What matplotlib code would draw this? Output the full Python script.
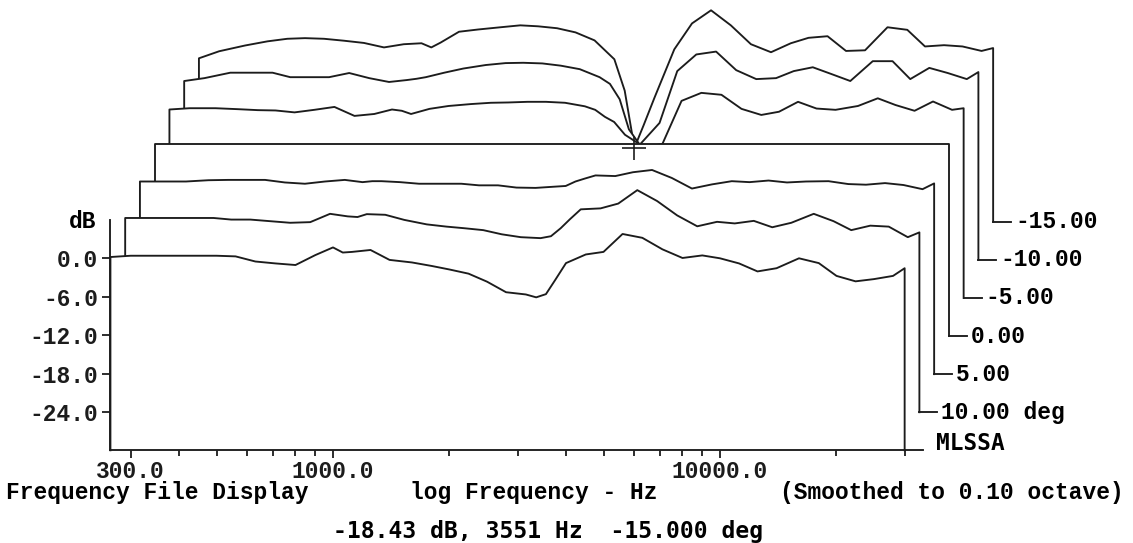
import matplotlib
matplotlib.use('Agg')
import matplotlib.pyplot as plt
from matplotlib.ticker import FixedLocator, FixedFormatter, NullFormatter

plt.rcParams['font.family'] = ['Liberation Mono', 'DejaVu Sans Mono']
plt.rcParams['font.weight'] = 'bold'
plt.rcParams['font.size'] = 16.5

# frequency grid (Hz) shared by all curves
freq = [266, 300, 350, 400, 450, 500, 560, 630, 710, 800, 900, 1000, 1060, 1120,
        1250, 1400, 1600, 1800, 2000, 2240, 2500, 2800, 3150, 3350, 3550, 3750,
        4000, 4500, 5000, 5600, 6300, 7100, 8000, 9000, 10000, 11200, 12500,
        14000, 16000, 18000, 20000, 22400, 25000, 28000, 30000]

# response in dB, front card first
deg_p15 = [0.2, 0.4, 0.4, 0.4, 0.4, 0.4, 0.3, -0.5, -0.8, -1.05, 0.5, 1.7, 0.9, 1.0,
           1.3, -0.25, -0.65, -1.2, -1.75, -2.4, -3.65, -5.3, -5.65, -6.1, -5.6, -3.4,
           -0.75, 0.6, 1.0, 3.8, 3.2, 1.4, 0.05, 0.45, 0.0, -0.8, -2.05,
           -1.55, 0.0, -0.75, -2.75, -3.6, -3.25, -2.75, -1.55]
deg_p10 = [0.35, 0.35, 0.35, 0.35, 0.35, 0.1, 0.1, -0.15, -0.4, -0.3, 1.0, 0.6, 0.5, 0.95,
           0.85, 0.05, -0.65, -1.0, -1.25, -1.55, -2.2, -2.65, -2.8, -2.5, -1.25, 0.15,
           1.7, 1.85, 2.6, 4.7, 3.0, 0.75, -0.95, -0.25, -0.5, -0.1, -1.1,
           -0.4, 1.0, -0.15, -1.55, -0.85, -1.0, -2.65, -1.9]
deg_p5 = [0.1, 0.1, 0.1, 0.3, 0.35, 0.35, 0.35, -0.05, -0.25, 0.1, 0.35, 0.0, 0.15, 0.15,
          0.0, -0.25, -0.25, -0.25, -0.5, -0.5, -0.85, -0.9, -0.7, -0.6, 0.1, 0.55,
          1.05, 0.95, 1.55, 1.9, 0.65, -1.0, -0.35, 0.15, 0.0, 0.25, -0.05,
          0.1, 0.15, -0.3, -0.4, -0.15, -0.45, -1.1, -0.2]
deg_0 = [0.0, 0.0, 0.0, 0.0, 0.0, 0.0, 0.0, 0.0, 0.0, 0.0, 0.0, 0.0, 0.0, 0.0,
         0.0, 0.0, 0.0, 0.0, 0.0, 0.0, 0.0, 0.0, 0.0, 0.0, 0.0, 0.0,
         0.0, 0.0, 0.0, 0.0, 0.0, 0.0, 0.0, 0.0, 0.0, 0.0, 0.0,
         0.0, 0.0, 0.0, 0.0, 0.0, 0.0, 0.0, 0.0]
deg_m5 = [-0.55, -0.35, -0.35, -0.5, -0.65, -0.7, -1.0, -0.6, -0.15, -1.55, -1.25, -0.55, -0.75, -1.25,
          -0.45, 0.0, 0.3, 0.5, 0.55, 0.65, 0.65, 0.5, -0.05, -0.6, -1.7, -2.5,
          -4.5, -6.5, -5.9, 0.8, 2.05, 1.75, -0.45, -1.4, -0.9, 0.65, -0.4,
          -0.6, 0.0, 1.2, 0.15, -0.75, 0.7, -0.6, -0.35]
deg_m10 = [-2.05, -1.6, -0.75, -0.75, -0.75, -1.45, -1.45, -1.45, -0.8, -1.6, -2.2, -1.9, -1.7, -1.45,
           -0.75, -0.1, 0.45, 0.75, 0.8, 0.7, 0.35, -0.2, -1.45, -2.5, -4.9, -9.6,
           -12.0, -8.6, -0.5, 2.1, 2.55, -0.35, -1.75, -1.6, -0.5, 0.1, -0.95,
           -2.05, 1.05, 1.05, -1.75, 0.0, -0.8, -1.75, -0.65]
deg_m15 = [-4.45, -3.35, -2.45, -1.8, -1.4, -1.3, -1.4, -1.7, -2.05, -2.75, -2.25, -2.1, -2.75, -2.0,
           -0.3, 0.05, 0.4, 0.7, 0.55, 0.25, -0.4, -1.65, -4.6, -9.5, -18.43, -14.9,
           -10.6, -3.05, 1.0, 3.05, 0.7, -2.25, -3.5, -2.1, -1.25, -1.0, -3.3,
           -3.2, 0.4, 0.0, -2.6, -2.4, -2.6, -3.3, -2.85]

cards = [deg_p15, deg_p10, deg_p5, deg_0, deg_m5, deg_m10, deg_m15]
card_labels = ['', '10.00 deg', '5.00', '0.00', '-5.00', '-10.00', '-15.00']

ytick_vals = [0, -6, -12, -18, -24]
ytick_text = ['0.0', '-6.0', '-12.0', '-18.0', '-24.0']
xtick_major = [300, 1000, 10000]
xtick_text = ['300.0', '1000.0', '10000.0']
xtick_minor = [400, 500, 600, 700, 800, 900, 2000, 3000, 4000, 5000, 6000,
               7000, 8000, 9000, 20000, 30000]

cursor_f, cursor_db = 3551, -18.43

# waterfall geometry (one decade = 387 px, 6.4 px per dB)
step = 10 ** (14.75 / 387)
dy = 5.95
conn = 10 ** (18 / 387)
ink = '#1c1c1c'

fig = plt.figure(figsize=(11.33, 5.43), dpi=100)
ax = fig.add_axes([0, 0, 1, 1])
ax.set_xscale('log')
ax.set_xlim(10 ** (3 - 333 / 387), 10 ** (3 + 800 / 387))
ax.set_ylim(-(543 - 258.3) / 6.4, 258.3 / 6.4)

n = len(cards)
for k in range(n - 1, -1, -1):
    fx = [f * step ** k for f in freq]
    yy = [v + k * dy for v in cards[k]]
    base = -30 + k * dy
    px = [fx[0]] + fx + [fx[-1]]
    py = [base] + yy + [base]
    z = 10 + 2 * (n - k)
    ax.fill(px, py, color='white', lw=0, zorder=z)
    ax.plot(px, py, color=ink, lw=1.35, zorder=z + 1)
    ax.plot([fx[-1], fx[-1] * conn], [base, base], color=ink, lw=1.35, zorder=z + 1)
    if card_labels[k]:
        ax.text(fx[-1] * 10 ** (22 / 387), base, card_labels[k], ha='left', va='center',
                fontsize=16.5, zorder=40)

ax.text(freq[-1] * 10 ** (31 / 387), -30, 'MLSSA', ha='left', va='baseline',
        family='DejaVu Sans Mono', fontweight='bold', fontsize=16.4, zorder=40)

ax.plot(cursor_f * step ** 6, cursor_db + 6 * dy, marker='+', ms=17, mew=1.2,
        color=ink, zorder=60)

for s in ['top', 'right']:
    ax.spines[s].set_visible(False)
ax.spines['left'].set_position(('data', freq[0]))
ax.spines['left'].set_bounds(-30, 6)
ax.spines['bottom'].set_position(('data', -30))
ax.spines['bottom'].set_bounds(freq[0], freq[-1])
for s in ['left', 'bottom']:
    ax.spines[s].set_linewidth(1.35)
    ax.spines[s].set_color(ink)
    ax.spines[s].set_zorder(50)

ax.set_yticks(ytick_vals)
ax.set_yticklabels(ytick_text)
ax.xaxis.set_major_locator(FixedLocator(xtick_major))
ax.xaxis.set_major_formatter(FixedFormatter(xtick_text))
ax.xaxis.set_minor_locator(FixedLocator(xtick_minor))
ax.xaxis.set_minor_formatter(NullFormatter())
ax.tick_params(axis='y', direction='out', length=6, width=1.3, pad=3, colors=ink)
ax.tick_params(axis='x', which='major', direction='out', length=6, width=1.3, pad=1, colors=ink)
ax.tick_params(axis='x', which='minor', direction='out', length=4, width=1.3, colors=ink)

ax.annotate('dB', xy=(freq[0], 6), xytext=(-10, -1), textcoords='offset points',
            ha='right', va='center', fontsize=16.5)

W, H = 1133, 543
fig.text(6 / W, 1 - 499 / H, 'Frequency File Display', ha='left', va='baseline')
fig.text(410 / W, 1 - 499 / H, 'log Frequency - Hz', ha='left', va='baseline')
fig.text(780 / W, 1 - 499 / H, '(Smoothed to 0.10 octave)', ha='left', va='baseline')
fig.text(548 / W, 1 - 538 / H, '-18.43 dB, 3551 Hz  -15.000 deg', ha='center',
         va='baseline', family='DejaVu Sans Mono', fontweight='bold', fontsize=16.6)

fig.savefig('out.png', dpi=100, facecolor='white')
